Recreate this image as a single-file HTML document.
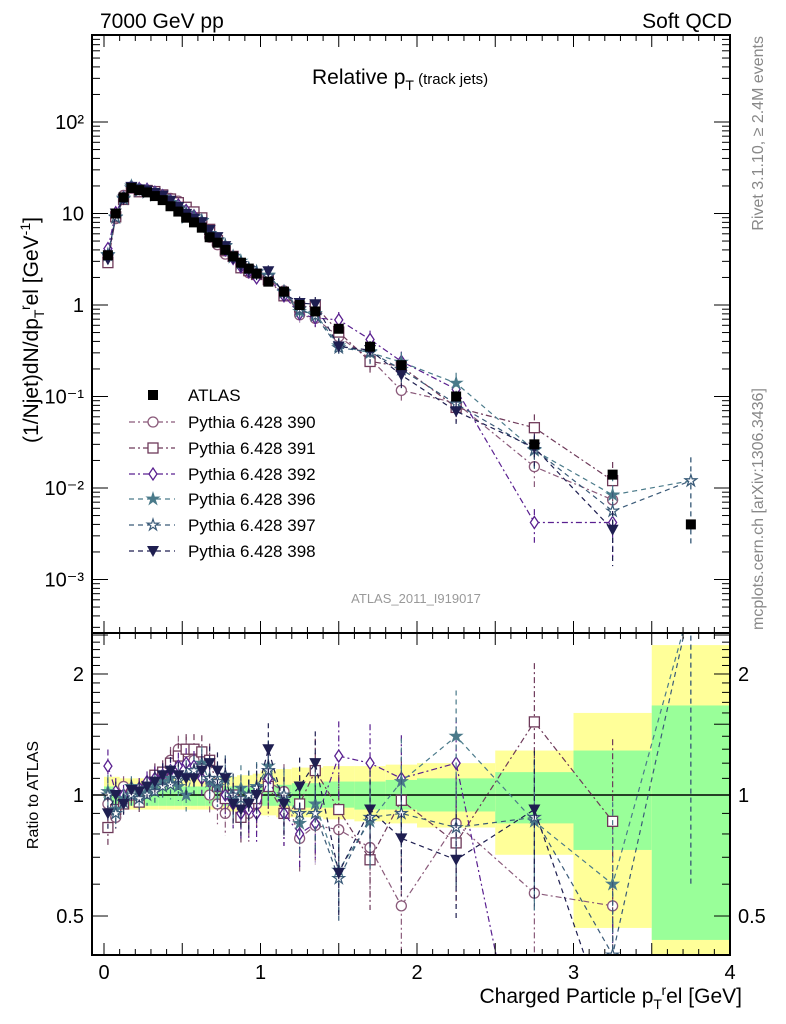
<!DOCTYPE html>
<html><head><meta charset="utf-8"><style>
html,body{margin:0;padding:0;background:#fff;width:786px;height:1024px;overflow:hidden;}
svg{display:block;font-family:"Liberation Sans",sans-serif;}
</style></head><body>
<svg id="c" width="786" height="1024" viewBox="0 0 786 1024">
<defs>
<clipPath id="clipMain"><rect x="92" y="35" width="638" height="598"/></clipPath>
<clipPath id="clipRatio"><rect x="92" y="633" width="638" height="322"/></clipPath>
</defs>
<g id="bands" clip-path="url(#clipRatio)"></g>
<g id="plotMain" clip-path="url(#clipMain)"></g>
<g id="plotRatio" clip-path="url(#clipRatio)"></g>
<g id="axes"></g>
<text x="100" y="28" font-size="21">7000 GeV pp</text>
<text x="732" y="28" font-size="21" text-anchor="end">Soft QCD</text>
<text x="312" y="84" font-size="21">Relative p<tspan font-size="14" dy="6">T</tspan><tspan font-size="15" dy="-6"> (track jets)</tspan></text>
<text x="416" y="603" font-size="13" fill="#999" text-anchor="middle">ATLAS_2011_I919017</text>
<text transform="translate(763,36) rotate(-90)" font-size="16" fill="#888" text-anchor="end">Rivet 3.1.10, ≥ 2.4M events</text>
<text transform="translate(763,630) rotate(-90)" font-size="16" fill="#888">mcplots.cern.ch [arXiv:1306.3436]</text>
<text transform="translate(38,330) rotate(-90)" font-size="21" text-anchor="middle">(1/Njet)dN/dp<tspan font-size="14" dy="6">T</tspan><tspan font-size="14" dy="-14">r</tspan><tspan dy="8">el [GeV</tspan><tspan font-size="14" dy="-8">-1</tspan><tspan dy="8">]</tspan></text>
<text transform="translate(38,795) rotate(-90)" font-size="16" text-anchor="middle">Ratio to ATLAS</text>
<text x="742" y="1003" font-size="21" text-anchor="end">Charged Particle p<tspan font-size="14" dy="6">T</tspan><tspan font-size="14" dy="-14">r</tspan><tspan dy="8">el [GeV]</tspan></text>
<g id="legend"></g>
</svg>
<script>
const binLo=[0,0.05,0.1,0.15,0.2,0.25,0.3,0.35,0.4,0.45,0.5,0.55,0.6,0.65,0.7,0.75,0.8,0.85,0.9,0.95,1.0,1.1,1.2,1.3,1.4,1.6,1.8,2.0,2.5,3.0,3.5];
const binHi=[0.05,0.1,0.15,0.2,0.25,0.3,0.35,0.4,0.45,0.5,0.55,0.6,0.65,0.7,0.75,0.8,0.85,0.9,0.95,1.0,1.1,1.2,1.3,1.4,1.6,1.8,2.0,2.5,3.0,3.5,4.0];
const atlas=[3.5,10,15,19,18,17,15.5,14,12,10.5,9,8,7,5.5,4.8,4,3.4,2.9,2.5,2.2,1.8,1.4,1.0,0.85,0.55,0.35,0.22,0.1,0.03,0.014,0.004];
const totUp=[1.11,1.11,1.1,1.1,1.1,1.1,1.1,1.1,1.1,1.1,1.1,1.1,1.1,1.1,1.1,1.11,1.11,1.12,1.12,1.13,1.15,1.16,1.17,1.17,1.18,1.18,1.19,1.2,1.29,1.6,2.36];
const totDn=[0.91,0.91,0.92,0.92,0.92,0.92,0.92,0.92,0.92,0.92,0.92,0.92,0.92,0.92,0.92,0.91,0.91,0.9,0.9,0.9,0.89,0.88,0.88,0.88,0.87,0.86,0.85,0.83,0.71,0.467,0.3];
const statUp=[1.05,1.05,1.05,1.05,1.05,1.05,1.05,1.05,1.05,1.05,1.05,1.05,1.05,1.05,1.05,1.05,1.05,1.05,1.05,1.05,1.06,1.06,1.07,1.07,1.08,1.08,1.09,1.1,1.14,1.29,1.67];
const statDn=[0.94,0.94,0.94,0.94,0.94,0.94,0.94,0.94,0.94,0.94,0.94,0.94,0.94,0.94,0.94,0.94,0.94,0.94,0.94,0.94,0.94,0.94,0.93,0.93,0.93,0.92,0.92,0.91,0.85,0.73,0.436];
const relErr=[0.1,0.08,0.06,0.06,0.06,0.06,0.07,0.07,0.08,0.08,0.09,0.09,0.1,0.1,0.11,0.12,0.13,0.14,0.15,0.15,0.16,0.17,0.18,0.2,0.22,0.25,0.28,0.3,0.4,0.6,0.8];
const r390=[0.95,0.88,1.05,1.02,1.03,1.06,1.1,1.12,1.22,1.3,1.28,1.22,1.18,1.0,0.95,0.9,1.0,0.96,0.9,0.95,1.08,1.02,0.78,0.84,0.82,0.74,0.53,0.85,0.57,0.53,null];
const r391=[0.83,0.92,0.95,1.0,0.96,1.05,1.12,1.14,1.2,1.25,1.3,1.3,1.28,1.22,1.05,0.98,1.0,0.88,0.95,0.98,1.05,0.9,0.95,1.15,0.92,0.69,0.97,0.76,1.52,0.86,null];
const r392=[1.18,1.02,1.0,1.04,1.04,1.08,1.1,1.12,1.15,1.18,1.2,1.18,1.1,1.08,1.05,1.0,0.95,0.9,0.92,0.9,1.1,0.9,0.8,0.85,1.25,1.2,1.1,1.2,0.14,0.3,null];
const r396=[1.02,0.92,0.98,1.05,1.0,1.04,1.06,1.08,1.1,1.05,1.0,1.15,1.2,1.08,1.05,1.1,0.98,1.04,1.0,1.05,1.18,0.98,0.85,0.95,0.65,0.86,1.08,1.4,0.86,0.6,3.0];
const r397=[1.0,0.9,0.96,1.0,0.98,1.0,1.02,1.05,1.06,1.1,1.12,1.15,1.18,1.1,1.08,1.12,1.0,0.98,1.0,1.04,1.15,1.0,0.9,0.9,0.62,0.88,0.9,0.83,0.88,0.4,3.0];
const r398=[0.9,1.0,0.95,1.03,1.02,1.05,1.08,1.12,1.15,1.12,1.1,1.1,1.15,1.2,1.15,1.1,0.95,0.92,0.95,1.0,1.3,0.95,1.05,1.2,0.64,0.92,0.78,0.69,0.92,0.25,null];
const seriesNames=["Pythia 6.428 390","Pythia 6.428 391","Pythia 6.428 392","Pythia 6.428 396","Pythia 6.428 397","Pythia 6.428 398"];
const seriesRatios=[r390,r391,r392,r396,r397,r398];
const seriesColors=["#8a5a7a","#6e3a5a","#5a2090","#4a7a8a","#3a5a78","#1e1e50"];
const seriesMarkers=["circle","square","diamond","starFilled","starOpen","triDown"];
const seriesDash=["6,3,2,3","6,3,2,3","6,3,2,3","5,4","5,4","5,4"];
const xTicks=[0,1,2,3,4];
const yMainTicks=[100,10,1,0.1,0.01,0.001];
const yMainLabels=["10²","10","1","10⁻¹","10⁻²","10⁻³"];
const yRatioTicks=[2,1,0.5];
const yRatioLabels=["2","1","0.5"];

const NS="http://www.w3.org/2000/svg";
const X0=104,XS=156.5;
const xS=v=>X0+v*XS;
const yM=v=>305-91.5*Math.log10(v);
const yR=v=>795-402*Math.log10(v);
function mk(tag,attrs,parent){const e=document.createElementNS(NS,tag);for(const k in attrs)e.setAttribute(k,attrs[k]);parent.appendChild(e);return e;}
const gMain=document.getElementById('plotMain'),gRatio=document.getElementById('plotRatio'),gBands=document.getElementById('bands'),gAx=document.getElementById('axes'),gLeg=document.getElementById('legend');
const ctr=i=>(binLo[i]+binHi[i])/2;

for(let i=0;i<binLo.length;i++){
  let r=mk('rect',{x:xS(binLo[i]),width:XS*(binHi[i]-binLo[i]),y:yR(totUp[i]),height:yR(totDn[i])-yR(totUp[i]),fill:'#ffff99'},gBands);
  
  
  let g=mk('rect',{x:xS(binLo[i]),width:XS*(binHi[i]-binLo[i]),y:yR(statUp[i]),height:yR(statDn[i])-yR(statUp[i]),fill:'#99ff99'},gBands);
  
  
}
mk('line',{x1:92,x2:730,y1:yR(1),y2:yR(1),stroke:'#000','stroke-width':1.5},gRatio);

function marker(type,x,y,col,parent){
  const s=5;let e;
  if(type==='circle')e=mk('circle',{cx:x,cy:y,r:s,fill:'#fff',stroke:col,'stroke-width':1.3},parent);
  else if(type==='square')e=mk('rect',{x:x-s,y:y-s,width:2*s,height:2*s,fill:'#fff',stroke:col,'stroke-width':1.3},parent);
  else if(type==='diamond')e=mk('path',{d:`M${x},${y-s-1}L${x+s-1},${y}L${x},${y+s+1}L${x-s+1},${y}Z`,fill:'#fff',stroke:col,'stroke-width':1.3},parent);
  else if(type==='triDown')e=mk('path',{d:`M${x-s-1},${y-s}L${x+s+1},${y-s}L${x},${y+s+1}Z`,fill:col},parent);
  else{let p='';for(let k=0;k<10;k++){const a=-Math.PI/2+k*Math.PI/5,rr=k%2?s*0.45:s+1;p+=(k?'L':'M')+(x+rr*Math.cos(a)).toFixed(1)+','+(y+rr*Math.sin(a)).toFixed(1);}
    e=mk('path',{d:p+'Z',fill:type==='starFilled'?col:'#fff',stroke:col,'stroke-width':1.2},parent);}
  return e;
}

seriesRatios.forEach((rat,si)=>{
  const col=seriesColors[si];
  let dm='',dr='';
  const gm=mk('g',{},gMain);
  const gr=mk('g',{},gRatio);
  rat.forEach((r,i)=>{if(r===null)return;const x=xS(ctr(i));
    const v=atlas[i]*r;dm+=(dm?'L':'M')+x+','+yM(v);dr+=(dr?'L':'M')+x+','+yR(r);});
  mk('path',{d:dm,fill:'none',stroke:col,'stroke-width':1.2,'stroke-dasharray':seriesDash[si]},gm);
  mk('path',{d:dr,fill:'none',stroke:col,'stroke-width':1.2,'stroke-dasharray':seriesDash[si]},gr);
  rat.forEach((r,i)=>{if(r===null)return;const x=xS(ctr(i)),v=atlas[i]*r,e=relErr[i];
    mk('line',{x1:x,x2:x,y1:yM(v*(1+e)),y2:yM(Math.max(v*(1-e),1e-5)),stroke:col,'stroke-width':1.2,'stroke-dasharray':seriesDash[si]},gm);
    mk('line',{x1:x,x2:x,y1:yR(r*(1+e)),y2:yR(Math.max(r*(1-e),0.05)),stroke:col,'stroke-width':1.2,'stroke-dasharray':seriesDash[si]},gr);
    const m1=marker(seriesMarkers[si],x,yM(v),col,gm);
    
    
    const m2=marker(seriesMarkers[si],x,yR(r),col,gr);
    
    
  });
});
atlas.forEach((v,i)=>{const x=xS(ctr(i));
  const p=mk('rect',{x:x-5,y:yM(v)-5,width:10,height:10,fill:'#000'},gMain);
  
  
});

const f1=mk('rect',{x:92,y:35,width:638,height:598,fill:'none',stroke:'#000','stroke-width':2},gAx);

const f2=mk('rect',{x:92,y:633,width:638,height:322,fill:'none',stroke:'#000','stroke-width':2},gAx);

for(let k=0;k<=40;k++){const v=k*0.1,x=xS(v);if(x>730)break;const big=k%5===0;
  [[35,1],[633,-1],[633,1],[955,-1]].forEach(([y0,d])=>mk('line',{x1:x,x2:x,y1:y0,y2:y0+d*(big?12:6),stroke:'#000','stroke-width':1},gAx));}
xTicks.forEach(v=>{const t=mk('text',{x:xS(v),y:979,'font-size':20,'text-anchor':'middle'},gAx);t.textContent=v;
  });
for(let d=-4;d<=2;d++)for(let m=1;m<=9;m++){const v=m*Math.pow(10,d),y=yM(v);if(y<35||y>633)continue;const L=m===1?16:8;
  mk('line',{x1:92,x2:92+L,y1:y,y2:y,stroke:'#000'},gAx);mk('line',{x1:730,x2:730-L,y1:y,y2:y,stroke:'#000'},gAx);}
yMainTicks.forEach((v,i)=>{const t=mk('text',{x:84,y:yM(v)+7,'font-size':20,'text-anchor':'end'},gAx);t.textContent=yMainLabels[i];
  });
for(let k=4;k<=25;k++){const v=k/10,y=yR(v);if(y<633||y>955)continue;const big=(k%5===0);
  mk('line',{x1:92,x2:92+(big?16:8),y1:y,y2:y,stroke:'#000'},gAx);mk('line',{x1:730,x2:730-(big?16:8),y1:y,y2:y,stroke:'#000'},gAx);}
yRatioTicks.forEach((v,i)=>{const t=mk('text',{x:84,y:yR(v)+7,'font-size':20,'text-anchor':'end'},gAx);t.textContent=yRatioLabels[i];
  
  const t2=mk('text',{x:738,y:yR(v)+7,'font-size':20},gAx);t2.textContent=yRatioLabels[i];
  });

const ly=[395,422,448,474,499,525,551];
let a=mk('rect',{x:148,y:ly[0]-5,width:10,height:10,fill:'#000'},gLeg);

let at=mk('text',{x:188,y:ly[0]+6,'font-size':17},gLeg);at.textContent='ATLAS';

seriesNames.forEach((n,i)=>{const y=ly[i+1],col=seriesColors[i];
  mk('line',{x1:129,x2:175,y1:y,y2:y,stroke:col,'stroke-width':1.2,'stroke-dasharray':seriesDash[i]},gLeg);
  marker(seriesMarkers[i],153,y,col,gLeg);
  const t=mk('text',{x:188,y:y+6,'font-size':17},gLeg);t.textContent=n;
  });
</script>
</body></html>
